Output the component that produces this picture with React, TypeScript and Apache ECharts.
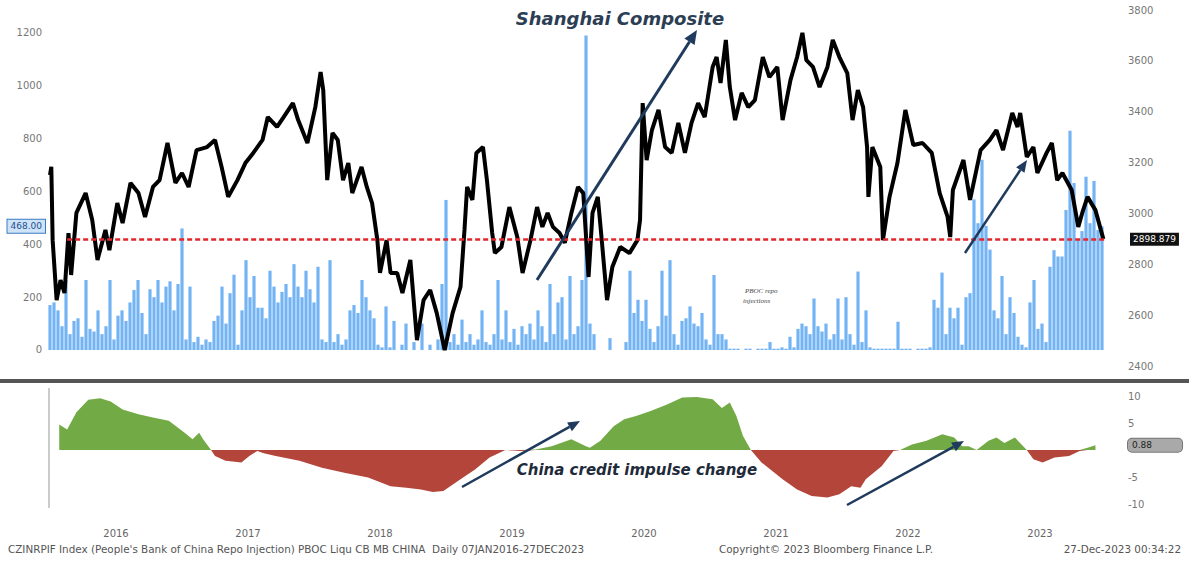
import React, { useEffect, useRef } from 'react';
import * as echarts from 'echarts';

// Shanghai Composite (right axis) — decimal year / index level
const compYears = [
  2016.00, 2016.01, 2016.02, 2016.05, 2016.08, 2016.11, 2016.14, 2016.16, 2016.20, 2016.27,
  2016.32, 2016.36, 2016.42, 2016.45, 2016.51, 2016.55, 2016.61, 2016.67, 2016.72, 2016.78,
  2016.83, 2016.89, 2016.95, 2017.00, 2017.05, 2017.11, 2017.19, 2017.25, 2017.30, 2017.35,
  2017.42, 2017.48, 2017.54, 2017.61, 2017.65, 2017.72, 2017.77, 2017.84, 2017.88, 2017.95,
  2018.01, 2018.05, 2018.07, 2018.10, 2018.14, 2018.18, 2018.22, 2018.26, 2018.29, 2018.36,
  2018.40, 2018.44, 2018.48, 2018.50, 2018.55, 2018.58, 2018.63, 2018.67, 2018.73, 2018.78,
  2018.83, 2018.88, 2018.93, 2018.99, 2019.05, 2019.11, 2019.14, 2019.16, 2019.20, 2019.23,
  2019.28, 2019.31, 2019.35, 2019.37, 2019.42, 2019.48, 2019.54, 2019.58, 2019.64, 2019.69,
  2019.73, 2019.77, 2019.81, 2019.86, 2019.90, 2019.95, 2020.00, 2020.04, 2020.08, 2020.11,
  2020.15, 2020.18, 2020.22, 2020.26, 2020.32, 2020.39, 2020.45, 2020.47, 2020.49, 2020.52,
  2020.56, 2020.61, 2020.66, 2020.71, 2020.76, 2020.81, 2020.86, 2020.91, 2020.96, 2021.02,
  2021.05, 2021.08, 2021.12, 2021.15, 2021.19, 2021.24, 2021.29, 2021.34, 2021.40, 2021.45,
  2021.51, 2021.55, 2021.61, 2021.66, 2021.70, 2021.73, 2021.78, 2021.83, 2021.89, 2021.93,
  2021.98, 2022.04, 2022.08, 2022.12, 2022.16, 2022.19, 2022.20, 2022.23, 2022.29, 2022.31,
  2022.36, 2022.42, 2022.48, 2022.54, 2022.61, 2022.68, 2022.74, 2022.80, 2022.82, 2022.84,
  2022.92, 2022.97, 2023.05, 2023.12, 2023.17, 2023.22, 2023.29, 2023.33, 2023.35, 2023.40,
  2023.45, 2023.48, 2023.55, 2023.59, 2023.63, 2023.67, 2023.74, 2023.79, 2023.82, 2023.86,
  2023.92, 2023.98,
];
const compValues = [
  3151, 3183, 2895, 2659, 2738, 2687, 2923, 2758, 3002, 3080,
  2974, 2817, 2935, 2856, 3041, 2962, 3120, 3080, 2986, 3104,
  3131, 3277, 3120, 3159, 3104, 3249, 3261, 3289, 3183, 3065,
  3131, 3198, 3238, 3289, 3379, 3340, 3379, 3434, 3367, 3277,
  3418, 3556, 3485, 3131, 3316, 3289, 3131, 3198, 3080, 3183,
  3104, 3041, 2895, 2766, 2895, 2766, 2766, 2687, 2817, 2502,
  2659, 2699, 2608, 2463, 2608, 2711, 2935, 3104, 3053, 3238,
  3261, 3131, 2923, 2844, 2868, 3025, 2907, 2766, 2895, 3025,
  2947, 3002, 2947, 2923, 2884, 3002, 3104, 3080, 2750, 3002,
  3065, 2895, 2659, 2789, 2868, 2844, 2895, 2974, 3434, 3210,
  3328, 3407, 3261, 3238, 3356, 3238, 3356, 3434, 3379, 3576,
  3615, 3513, 3682, 3497, 3367, 3474, 3418, 3446, 3615, 3536,
  3576, 3367, 3525, 3615, 3710, 3603, 3576, 3497, 3576, 3682,
  3615, 3552, 3367, 3485, 3418, 3261, 3065, 3261, 3183, 2895,
  3065, 3198, 3407, 3269, 3277, 3238, 3080, 2986, 2907, 3092,
  3210, 3053, 3249, 3289, 3328, 3249, 3395, 3340, 3395, 3222,
  3261, 3159, 3238, 3277, 3131, 3159, 3092, 2947, 3002, 3065,
  3013, 2898.879,
];
const compLast = 2898.879;

// PBOC repo injections (left axis), 33 readings per year
const repoYears = [2016, 2017, 2018, 2019, 2020, 2021, 2022, 2023];
const repo2016 = [170, 180, 150, 90, 265, 60, 110, 120, 50, 265, 80, 70, 150, 60, 90, 265, 40, 130, 150, 110, 180, 227, 265, 140, 60, 230, 200, 265, 180, 240, 260, 150, 250];
const repo2017 = [460, 40, 240, 30, 50, 20, 40, 30, 110, 130, 240, 100, 215, 285, 20, 150, 340, 200, 280, 160, 160, 120, 300, 240, 180, 220, 250, 200, 325, 240, 200, 300, 230];
const repo2018 = [180, 315, 40, 30, 340, 30, 60, 20, 40, 150, 170, 140, 265, 200, 150, 120, 20, 10, 165, 10, 110, 0, 20, 100, 0, 30, 0, 100, 0, 20, 0, 40, 250];
const repo2019 = [568, 30, 60, 20, 115, 30, 60, 20, 40, 150, 30, 20, 60, 265, 40, 150, 30, 80, 20, 90, 60, 100, 40, 150, 90, 30, 250, 60, 180, 200, 40, 280, 60];
const repo2020 = [90, 265, 1190, 100, 60, 0, 0, 0, 45, 0, 0, 0, 30, 300, 140, 190, 110, 190, 80, 30, 90, 300, 130, 340, 60, 20, 110, 120, 165, 100, 90, 140, 40];
const repo2021 = [20, 284, 60, 60, 40, 5, 5, 5, 0, 5, 5, 0, 5, 5, 5, 30, 5, 5, 10, 5, 50, 10, 80, 100, 90, 60, 195, 90, 70, 100, 40, 60, 195];
const repo2022 = [40, 200, 60, 20, 297, 30, 150, 10, 5, 5, 5, 5, 5, 5, 107, 5, 5, 5, 0, 5, 5, 5, 10, 190, 160, 293, 60, 160, 120, 160, 20, 200, 215];
const repo2023 = [570, 480, 720, 470, 380, 150, 120, 280, 60, 200, 140, 50, 20, 10, 180, 265, 80, 100, 30, 315, 378, 354, 354, 530, 830, 632, 417, 450, 656, 480, 640, 454, 468];
const repoLast = 468;

// China credit impulse change (bottom panel)
const creditYears = [
  2016.07, 2016.13, 2016.20, 2016.29, 2016.38, 2016.46, 2016.55, 2016.67, 2016.78, 2016.90,
  2017.02, 2017.08, 2017.13, 2017.16, 2017.22, 2017.25, 2017.33, 2017.45, 2017.51, 2017.57,
  2017.62, 2017.71, 2017.89, 2018.06, 2018.23, 2018.41, 2018.58, 2018.70, 2018.81, 2018.90,
  2018.98, 2019.11, 2019.22, 2019.33, 2019.45, 2019.57, 2019.68, 2019.80, 2019.95, 2020.06,
  2020.09, 2020.17, 2020.27, 2020.35, 2020.44, 2020.55, 2020.67, 2020.79, 2020.90, 2021.02,
  2021.09, 2021.15, 2021.20, 2021.25, 2021.31, 2021.39, 2021.55, 2021.66, 2021.77, 2021.89,
  2021.98, 2022.07, 2022.14, 2022.18, 2022.30, 2022.39, 2022.44, 2022.53, 2022.64, 2022.76,
  2022.85, 2022.91, 2022.96, 2023.02, 2023.11, 2023.17, 2023.23, 2023.31, 2023.40, 2023.45,
  2023.52, 2023.61, 2023.72, 2023.80, 2023.86, 2023.92,
];
const creditValues = [
  4.7, 3.8, 7.0, 9.3, 9.6, 9.0, 7.5, 6.6, 6.0, 5.4,
  3.2, 2.0, 3.2, 2.0, 0, -1.1, -2.0, -2.3, -1.1, -0.2,
  -0.6, -1.1, -2.0, -3.3, -4.2, -5.1, -6.7, -7.0, -7.3, -7.8,
  -7.6, -5.4, -3.6, -1.4, 0, -0.2, 0.1, 0.7, 2.0, 0.7,
  0.4, 1.7, 4.4, 5.7, 6.3, 7.2, 8.4, 9.7, 9.8, 9.4,
  7.8, 8.8, 6.3, 2.6, 0, -2.3, -5.4, -7.3, -8.5, -8.8,
  -8.2, -6.7, -7.0, -5.4, -3.0, -0.2, 0, 1.0, 1.7, 2.9,
  2.3, 0.7, 0.7, 0, 1.7, 2.3, 1.3, 2.3, 0, -1.7,
  -2.3, -1.4, -1.1, -0.2, 0.4, 0.88,
];
const creditLast = 0.88;

const leftTicks = [0, 200, 400, 600, 800, 1000, 1200];

const FONT = '"DejaVu Sans", Verdana, sans-serif';

export default function App() {
  const ref = useRef<HTMLDivElement>(null);

  useEffect(() => {
    document.body.style.margin = '0';
    const chart = echarts.init(ref.current!, null, { renderer: 'svg' });

    const repoByYear = [repo2016, repo2017, repo2018, repo2019, repo2020, repo2021, repo2022, repo2023];
    const repoData: number[][] = [];
    repoByYear.forEach((arr, yi) => arr.forEach((v, k) => repoData.push([repoYears[yi] + k / 33, v])));
    const compData = compYears.map((y, i) => [y, compValues[i]]);
    const creditPos = creditYears.map((y, i) => [y, Math.max(creditValues[i], 0)]);
    const creditNeg = creditYears.map((y, i) => [y, Math.min(creditValues[i], 0)]);

    const navy = '#1f3a5c';
    const arrow = (x1: number, y1: number, bx: number, by: number, tip: number[], c1: number[], c2: number[], w: number) => [
      { type: 'line', z: 100, shape: { x1, y1, x2: bx, y2: by }, style: { stroke: navy, lineWidth: w } },
      { type: 'polygon', z: 100, shape: { points: [tip, c1, c2] }, style: { fill: navy } },
    ];
    const plain = (v: number) => String(v);
    const clear = 'rgba(0,0,0,0)';

    const option: any = {
      animation: false,
      backgroundColor: '#ffffff',
      grid: [
        { left: 50, top: 10, width: 1056, height: 356 },
        { left: 50, top: 396, width: 1056, height: 108 },
      ],
      xAxis: [
        { type: 'value', gridIndex: 0, min: 2016, max: 2024, show: false, splitLine: { show: false } },
        {
          type: 'value', gridIndex: 1, min: 2016, max: 2024, interval: 0.5,
          axisLine: { show: false }, axisTick: { show: false }, splitLine: { show: false },
          axisLabel: {
            margin: 24, color: '#666', fontSize: 10, fontFamily: FONT,
            formatter: (v: number) => (Math.round(v * 2) % 2 === 1 ? String(Math.floor(v)) : ''),
          },
        },
      ],
      yAxis: [
        {
          type: 'value', gridIndex: 0, position: 'left', min: -60.6, max: 1287,
          axisLine: { show: false }, axisTick: { show: false }, splitLine: { show: false },
          axisLabel: { customValues: leftTicks, formatter: plain, margin: 8, color: '#777', fontSize: 10, fontFamily: FONT },
        },
        {
          type: 'value', gridIndex: 0, position: 'right', min: 2400, max: 3800, interval: 200,
          axisLine: { show: false }, axisTick: { show: false }, splitLine: { show: false },
          axisLabel: { formatter: plain, margin: 22, color: '#777', fontSize: 10, fontFamily: FONT },
        },
        {
          type: 'value', gridIndex: 1, position: 'left', min: -10, max: 10,
          axisLine: { show: false }, axisTick: { show: false }, splitLine: { show: false }, axisLabel: { show: false },
        },
        {
          type: 'value', gridIndex: 1, position: 'right', min: -10, max: 10, interval: 5,
          axisLine: { show: false }, axisTick: { show: false }, splitLine: { show: false },
          axisLabel: {
            margin: 22, color: '#777', fontSize: 10, fontFamily: FONT,
            formatter: (v: number) => (v === 0 ? '' : String(v)),
          },
        },
      ],
      series: [
        {
          name: 'PBOC repo injections', type: 'bar', xAxisIndex: 0, yAxisIndex: 0,
          data: repoData, barWidth: 3.2, itemStyle: { color: '#74b4f4' }, z: 1,
          markLine: {
            silent: true, symbol: 'none', lineStyle: { color: clear, width: 1, type: 'solid' },
            data: [{ yAxis: repoLast }],
            label: {
              show: true, position: 'start', distance: 5, formatter: repoLast.toFixed(2),
              color: '#1d4f8f', fontSize: 9, fontFamily: FONT,
              backgroundColor: '#cfe3f8', borderColor: '#3a7cc4', borderWidth: 1, padding: [2, 3],
            },
          },
        },
        {
          name: 'Shanghai Composite', type: 'line', xAxisIndex: 0, yAxisIndex: 1,
          data: compData, showSymbol: false, symbol: 'none',
          lineStyle: { color: '#000', width: 4 }, z: 3,
          markLine: {
            silent: true, symbol: 'none',
            lineStyle: { color: '#e4262b', width: 2.5, type: [5, 3] },
            data: [[{ coord: [2016.13, compLast] }, { coord: [2024, compLast] }]],
            label: {
              position: 'end', distance: 24, formatter: String(compLast),
              color: '#fff', fontSize: 9, fontFamily: FONT,
              backgroundColor: '#111', padding: [2, 3],
            },
          },
        },
        {
          name: 'credit+', type: 'line', xAxisIndex: 1, yAxisIndex: 2, data: creditPos,
          showSymbol: false, symbol: 'none', lineStyle: { width: 0 },
          areaStyle: { color: '#72ab45', opacity: 1, origin: 0 },
        },
        {
          name: 'credit-', type: 'line', xAxisIndex: 1, yAxisIndex: 2, data: creditNeg,
          showSymbol: false, symbol: 'none', lineStyle: { width: 0 },
          areaStyle: { color: '#b4453b', opacity: 1, origin: 0 },
          markLine: {
            silent: true, symbol: 'none', lineStyle: { color: clear, width: 1, type: 'solid' },
            data: [{ yAxis: creditLast }],
            label: {
              position: 'end', distance: 22, formatter: creditLast.toFixed(2),
              color: '#222', fontSize: 9, fontFamily: FONT,
              backgroundColor: '#a9a9a9', borderColor: '#777', borderWidth: 1, borderRadius: 4,
              padding: [2, 30, 2, 4],
            },
          },
        },
      ],
      graphic: [
        { type: 'rect', z: 50, shape: { x: 0, y: 379, width: 1189, height: 4 }, style: { fill: '#555' } },
        { type: 'line', z: 50, shape: { x1: 49, y1: 388, x2: 49, y2: 508 }, style: { stroke: '#999', lineWidth: 1 } },
        {
          type: 'text', z: 100, x: 620, y: 18,
          style: { text: 'Shanghai Composite', font: `italic bold 18px ${FONT}`, fill: '#2c3e54', align: 'center', verticalAlign: 'middle', textAlign: 'center', textVerticalAlign: 'middle' },
        },
        {
          type: 'text', z: 100, x: 637, y: 470,
          style: { text: 'China credit impulse change', font: `italic bold 15px ${FONT}`, fill: '#1f2b3a', align: 'center', verticalAlign: 'middle', textAlign: 'center', textVerticalAlign: 'middle' },
        },
        {
          type: 'text', z: 100, x: 745, y: 287,
          style: { text: 'PBOC repo', font: 'italic 7px "Liberation Serif", serif', fill: '#444' },
        },
        {
          type: 'text', z: 100, x: 743, y: 297,
          style: { text: 'injections', font: 'italic 7px "Liberation Serif", serif', fill: '#444' },
        },
        ...arrow(537, 280, 689.5, 41.8, [697, 30], [694.6, 45.0], [684.4, 38.6], 3),
        ...arrow(965, 253, 1020.3, 170, [1027, 160], [1024.5, 172.8], [1016.1, 167.2], 2.5),
        ...arrow(462, 487, 569.5, 426.9, [580, 421], [571.9, 431.3], [567.1, 422.5], 2.5),
        ...arrow(847, 505, 953.5, 446.8, [964, 441], [955.9, 451.2], [951.1, 442.4], 2.5),
        {
          type: 'text', z: 100, x: 8, y: 549,
          style: { text: "CZINRPIF Index (People's Bank of China Repo Injection) PBOC Liqu CB MB CHINA  Daily 07JAN2016-27DEC2023", font: `10.4px ${FONT}`, fill: '#555', verticalAlign: 'middle', textVerticalAlign: 'middle' },
        },
        {
          type: 'text', z: 100, x: 826, y: 549,
          style: { text: 'Copyright\u00a9 2023 Bloomberg Finance L.P.', font: `10.4px ${FONT}`, fill: '#555', align: 'center', verticalAlign: 'middle', textAlign: 'center', textVerticalAlign: 'middle' },
        },
        {
          type: 'text', z: 100, x: 1181, y: 549,
          style: { text: '27-Dec-2023 00:34:22', font: `10.4px ${FONT}`, fill: '#555', align: 'right', verticalAlign: 'middle', textAlign: 'right', textVerticalAlign: 'middle' },
        },
      ],
    };

    chart.setOption(option);
    return () => chart.dispose();
  }, []);

  return <div ref={ref} style={{ width: 1189, height: 563 }} />;
}
